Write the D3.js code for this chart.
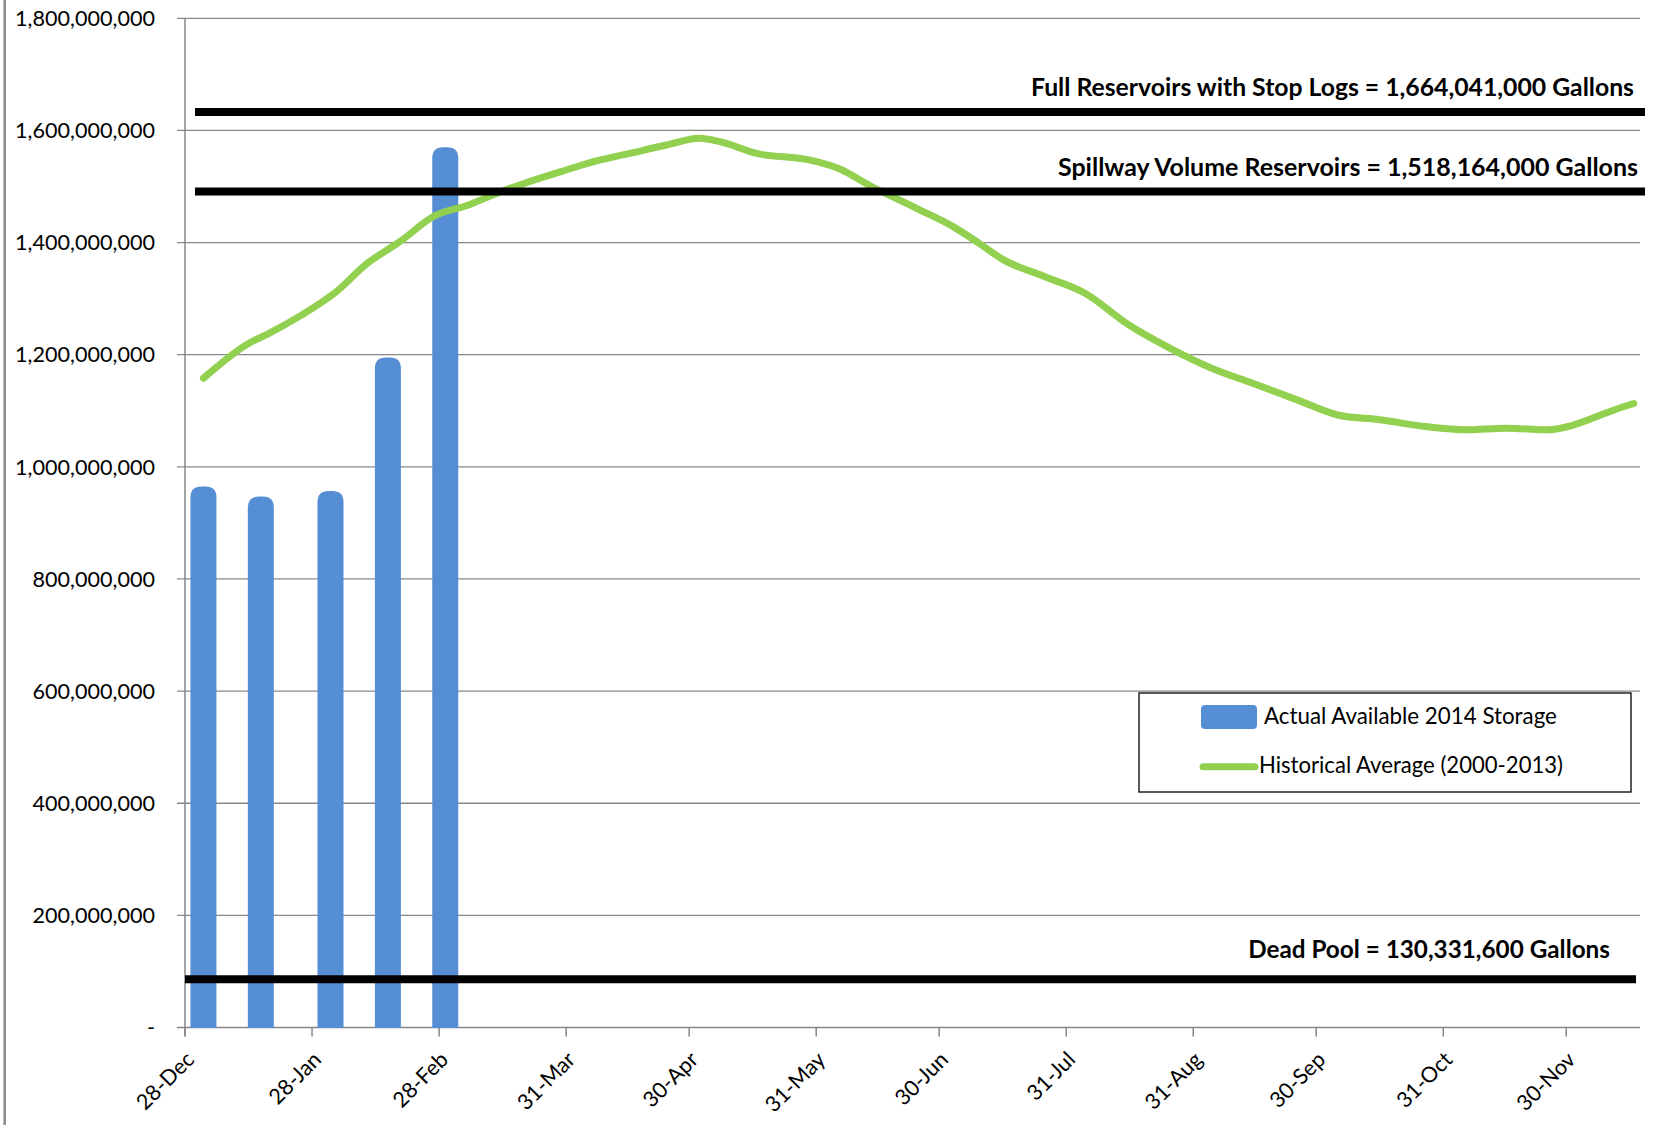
<!DOCTYPE html>
<html>
<head>
<meta charset="utf-8">
<script src="https://cdn.jsdelivr.net/npm/d3@7"></script>
<style>
  html, body { margin: 0; padding: 0; background: #fff; }
  svg { display: block; }
</style>
</head>
<body>
<svg id="chart" width="1660" height="1125"></svg>
<script>
// ---------------- DATA ----------------
const barDates  = ["2014-01-01", "2014-01-15", "2014-02-01", "2014-02-15", "2014-03-01"];
const barValues = [965e6, 947e6, 957e6, 1195e6, 1570e6];

const histDates = [
  "2014-01-01","2014-01-12","2014-01-17","2014-01-25","2014-02-02","2014-02-10",
  "2014-02-18","2014-02-26","2014-03-07","2014-03-15","2014-03-20","2014-03-29",
  "2014-04-06","2014-04-15","2014-04-24","2014-05-02","2014-05-07","2014-05-16",
  "2014-05-29","2014-06-05","2014-06-13","2014-06-24","2014-07-03","2014-07-09",
  "2014-07-15","2014-07-25","2014-08-04","2014-08-15","2014-08-25","2014-09-04",
  "2014-09-14","2014-09-25","2014-10-05","2014-10-15","2014-10-26","2014-11-05",
  "2014-11-15","2014-11-25","2014-11-30","2014-12-06","2014-12-11","2014-12-16"
];
const histValues = [
  1158e6,1220e6,1238e6,1271e6,1310e6,1363e6,
  1402e6,1446e6,1468e6,1492e6,1505e6,1526e6,
  1544e6,1559e6,1574e6,1586e6,1580e6,1559e6,
  1547e6,1532e6,1500e6,1461e6,1428e6,1400e6,
  1370e6,1340e6,1310e6,1252e6,1211e6,1176e6,
  1149e6,1119e6,1092e6,1084e6,1072e6,1066e6,
  1069e6,1066e6,1072e6,1087e6,1101e6,1113e6
];

const refValues = [1633e6, 1491e6, 86e6];
const refLabels = [
  "Full Reservoirs with Stop Logs = 1,664,041,000 Gallons",
  "Spillway Volume Reservoirs = 1,518,164,000 Gallons",
  "Dead Pool = 130,331,600 Gallons"
];

const yTickValues = [0, 200e6, 400e6, 600e6, 800e6, 1000e6, 1200e6, 1400e6, 1600e6, 1800e6];
const yTickLabels = ["-", "200,000,000", "400,000,000", "600,000,000", "800,000,000",
  "1,000,000,000", "1,200,000,000", "1,400,000,000", "1,600,000,000", "1,800,000,000"];

const xTickDates = ["2013-12-28","2014-01-28","2014-02-28","2014-03-31","2014-04-30","2014-05-31",
  "2014-06-30","2014-07-31","2014-08-31","2014-09-30","2014-10-31","2014-11-30"];
const xDomain = ["2013-12-28", "2014-12-18"];

const legendLabels = ["Actual Available 2014 Storage", "Historical Average (2000-2013)"];

// ---------------- CHART ----------------
const FONT = "Lato, 'Open Sans', sans-serif";
const BLUE = "#558ED5", GREEN = "#92D050", GRID = "#878787";
const parse = d3.utcParse("%Y-%m-%d");
const fmt = d3.utcFormat("%d-%b");

const L = 185, R = 1640, T = 18.3, B = 1027.5;
const svg = d3.select("#chart");

const x = d3.scaleUtc().domain(xDomain.map(parse)).range([L, R]);
const y = d3.scaleLinear().domain([0, 1.8e9]).range([B, T]);
const halfDay = (x(parse("2014-01-02")) - x(parse("2014-01-01"))) / 2;

function fitWidth(sel, target) {
  const w = sel.node().getComputedTextLength();
  const fs = parseFloat(sel.attr("font-size"));
  const nf = fs * target / w;
  sel.attr("font-size", nf.toFixed(2));
  return nf;
}

// outer left border
svg.append("line").attr("x1", 4.7).attr("x2", 4.7).attr("y1", 0).attr("y2", 1125)
  .attr("stroke", "#8a8a8a").attr("stroke-width", 2.5);

// gridlines (y axis ticks extend left)
svg.append("g").selectAll("line").data(yTickValues).join("line")
  .attr("x1", L - 8).attr("x2", R)
  .attr("y1", d => y(d)).attr("y2", d => y(d))
  .attr("stroke", GRID).attr("stroke-width", 1.3);

// y axis line
svg.append("line").attr("x1", L).attr("x2", L).attr("y1", T).attr("y2", B + 9)
  .attr("stroke", GRID).attr("stroke-width", 1.5);

// x ticks
svg.append("g").selectAll("line").data(xTickDates).join("line")
  .attr("x1", d => x(parse(d))).attr("x2", d => x(parse(d)))
  .attr("y1", B).attr("y2", B + 9)
  .attr("stroke", GRID).attr("stroke-width", 1.5);

// y labels
const ylab = svg.append("g").attr("font-family", FONT).attr("fill", "#000");
const ytexts = ylab.selectAll("text").data(yTickValues).join("text")
  .attr("font-size", 21)
  .attr("x", 155).attr("y", d => y(d)).attr("dy", "0.36em")
  .attr("text-anchor", "end")
  .text((d, i) => yTickLabels[i]);
const yfs = fitWidth(ytexts.filter((d, i) => i === yTickValues.length - 1), 140);
ytexts.attr("font-size", yfs.toFixed(2));

// x labels
svg.append("g").attr("font-family", FONT).attr("fill", "#000")
  .selectAll("text").data(xTickDates).join("text")
  .attr("font-size", yfs.toFixed(2))
  .attr("text-anchor", "end").attr("dy", "0.36em")
  .attr("transform", d => `translate(${x(parse(d)) + 5},${B + 28}) rotate(-45)`)
  .text(d => fmt(parse(d)));

// bars with rounded tops
const bw = 26, rr = 11;
svg.append("g").selectAll("path").data(barValues).join("path")
  .attr("fill", BLUE)
  .attr("d", (v, i) => {
    const cx = x(parse(barDates[i])) + halfDay;
    const x0 = cx - bw / 2, x1 = cx + bw / 2, yt = y(v), yb = y(0) + 0.5;
    return `M${x0},${yb} L${x0},${yt + rr} Q${x0},${yt} ${x0 + rr},${yt} L${x1 - rr},${yt} Q${x1},${yt} ${x1},${yt + rr} L${x1},${yb} Z`;
  });

// historical average line
const hist = histDates.map((d, i) => ({ date: parse(d), value: histValues[i] }));
svg.append("path").datum(hist)
  .attr("fill", "none").attr("stroke", GREEN).attr("stroke-width", 7)
  .attr("stroke-linecap", "round").attr("stroke-linejoin", "round")
  .attr("d", d3.line().x(d => x(d.date) + halfDay).y(d => y(d.value)).curve(d3.curveMonotoneX));

// reference lines
const refX = [[195, 1645], [195, 1645], [185, 1636]];
svg.append("g").selectAll("line").data(refValues).join("line")
  .attr("x1", (d, i) => refX[i][0]).attr("x2", (d, i) => refX[i][1])
  .attr("y1", d => y(d)).attr("y2", d => y(d))
  .attr("stroke", "#000").attr("stroke-width", 8);

// reference labels
const refText = [[1634, 96, 603], [1638, 176, 580], [1610, 958, 362]];
svg.append("g").attr("font-family", FONT).attr("font-weight", "bold").attr("fill", "#000")
  .selectAll("text").data(refLabels).join("text")
  .attr("font-size", 24)
  .attr("text-anchor", "end")
  .attr("x", (d, i) => refText[i][0]).attr("y", (d, i) => refText[i][1])
  .text(d => d)
  .each(function (d, i) { fitWidth(d3.select(this), refText[i][2]); });

// legend
const lg = svg.append("g");
lg.append("rect").attr("x", 1139).attr("y", 693).attr("width", 492).attr("height", 99)
  .attr("fill", "#fff").attr("stroke", "#000").attr("stroke-width", 1.3);
lg.append("rect").attr("x", 1201).attr("y", 705).attr("width", 56).attr("height", 24)
  .attr("rx", 4).attr("fill", BLUE);
lg.append("line").attr("x1", 1203).attr("x2", 1255).attr("y1", 766.7).attr("y2", 766.7)
  .attr("stroke", GREEN).attr("stroke-width", 7).attr("stroke-linecap", "round");
const legPos = [[1264, 724, 293], [1259, 773, 304]];
lg.selectAll("text").data(legendLabels).join("text")
  .attr("font-family", FONT).attr("font-size", 22).attr("fill", "#000")
  .attr("x", (d, i) => legPos[i][0]).attr("y", (d, i) => legPos[i][1])
  .text(d => d)
  .each(function (d, i) { fitWidth(d3.select(this), legPos[i][2]); });
</script>
</body>
</html>
